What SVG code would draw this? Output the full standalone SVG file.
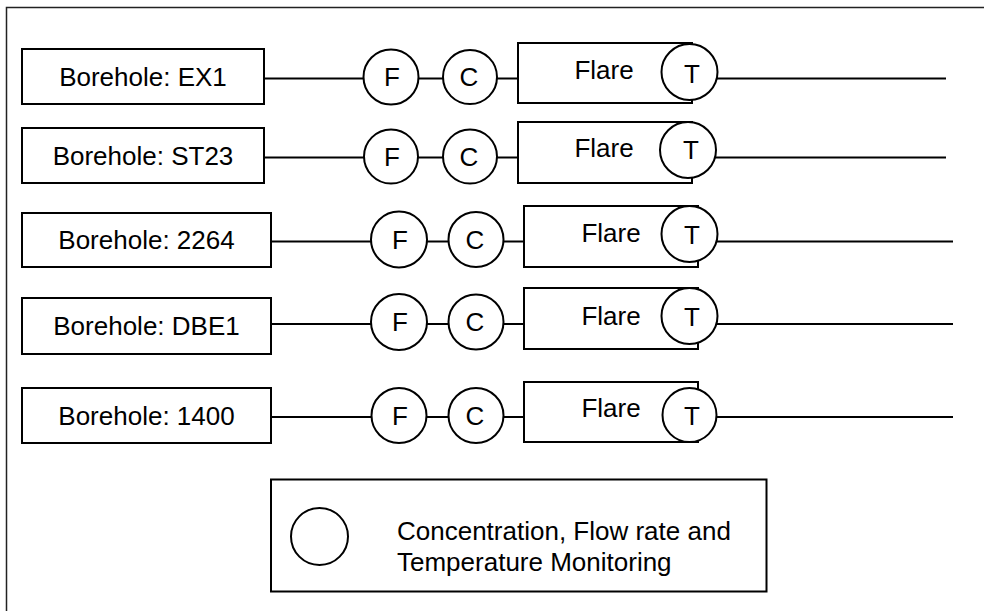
<svg xmlns="http://www.w3.org/2000/svg" width="984" height="611" viewBox="0 0 984 611">
<style>
  .box { fill: #ffffff; stroke: #000000; stroke-width: 2; }
  .circ { fill: #ffffff; stroke: #000000; stroke-width: 2; }
  .ln { stroke: #000000; stroke-width: 2; fill: none; }
  .t { font-family: "Liberation Sans", Arial, sans-serif; font-size: 26px; fill: #000000; }
  .m { text-anchor: middle; }
</style>
<rect x="6.5" y="7.5" width="1000" height="700" fill="#ffffff" stroke="#222222" stroke-width="1.5"/>

<g id="connectors">
  <line class="ln" x1="264" y1="78.5" x2="364" y2="78.5"/>
  <line class="ln" x1="418" y1="78.5" x2="444" y2="78.5"/>
  <line class="ln" x1="496" y1="78.5" x2="518" y2="78.5"/>
  <line class="ln" x1="717" y1="78.5" x2="946" y2="78.5"/>

  <line class="ln" x1="264" y1="157.5" x2="364" y2="157.5"/>
  <line class="ln" x1="418" y1="157.5" x2="444" y2="157.5"/>
  <line class="ln" x1="496" y1="157.5" x2="518" y2="157.5"/>
  <line class="ln" x1="715" y1="157.5" x2="946" y2="157.5"/>

  <line class="ln" x1="271" y1="241.5" x2="372" y2="241.5"/>
  <line class="ln" x1="426" y1="241.5" x2="449" y2="241.5"/>
  <line class="ln" x1="503" y1="241.5" x2="524" y2="241.5"/>
  <line class="ln" x1="717" y1="241.5" x2="953" y2="241.5"/>

  <line class="ln" x1="271" y1="324" x2="372" y2="324"/>
  <line class="ln" x1="426" y1="324" x2="449" y2="324"/>
  <line class="ln" x1="503" y1="324" x2="524" y2="324"/>
  <line class="ln" x1="717" y1="324" x2="953" y2="324"/>

  <line class="ln" x1="271" y1="417" x2="372" y2="417"/>
  <line class="ln" x1="426" y1="417" x2="449" y2="417"/>
  <line class="ln" x1="503" y1="417" x2="524" y2="417"/>
  <line class="ln" x1="717" y1="417" x2="953" y2="417"/>
</g>

<!-- Row 1 -->
<g id="borehole-ex1">
  <rect class="box" x="22" y="49" width="242" height="55"/>
  <text class="t m" x="143" y="86">Borehole: EX1</text>
</g>
<g id="f1"><circle class="circ" cx="391" cy="77" r="27.5"/><text class="t m" x="392" y="86">F</text></g>
<g id="c1"><circle class="circ" cx="470" cy="77" r="27"/><text class="t m" x="469" y="86">C</text></g>
<g id="flare1">
  <rect class="box" x="518" y="43" width="174" height="60"/>
  <text class="t m" x="604" y="79">Flare</text>
  <circle class="circ" cx="689.5" cy="72" r="28"/>
  <text class="t m" x="692" y="83">T</text>
</g>

<!-- Row 2 -->
<g id="borehole-st23">
  <rect class="box" x="22" y="128" width="242" height="55"/>
  <text class="t m" x="143" y="165">Borehole: ST23</text>
</g>
<g id="f2"><circle class="circ" cx="391" cy="156.5" r="27"/><text class="t m" x="392" y="165.5">F</text></g>
<g id="c2"><circle class="circ" cx="470" cy="156.5" r="27"/><text class="t m" x="469" y="165.5">C</text></g>
<g id="flare2">
  <rect class="box" x="518" y="122" width="174" height="61"/>
  <text class="t m" x="604" y="157">Flare</text>
  <circle class="circ" cx="688" cy="150" r="28"/>
  <text class="t m" x="691" y="159">T</text>
</g>

<!-- Row 3 -->
<g id="borehole-2264">
  <rect class="box" x="22" y="213" width="249" height="54"/>
  <text class="t m" x="146.5" y="249">Borehole: 2264</text>
</g>
<g id="f3"><circle class="circ" cx="399" cy="239.5" r="28"/><text class="t m" x="400" y="249">F</text></g>
<g id="c3"><circle class="circ" cx="476" cy="239.5" r="27.5"/><text class="t m" x="475" y="249">C</text></g>
<g id="flare3">
  <rect class="box" x="524" y="206" width="174" height="61"/>
  <text class="t m" x="611" y="242">Flare</text>
  <circle class="circ" cx="689.5" cy="234" r="28"/>
  <text class="t m" x="692" y="244">T</text>
</g>

<!-- Row 4 -->
<g id="borehole-dbe1">
  <rect class="box" x="22" y="298" width="249" height="56"/>
  <text class="t m" x="146.5" y="335">Borehole: DBE1</text>
</g>
<g id="f4"><circle class="circ" cx="399" cy="322" r="28"/><text class="t m" x="400" y="331">F</text></g>
<g id="c4"><circle class="circ" cx="476" cy="322" r="27.5"/><text class="t m" x="475" y="331">C</text></g>
<g id="flare4">
  <rect class="box" x="524" y="288" width="174" height="61"/>
  <text class="t m" x="611" y="325">Flare</text>
  <circle class="circ" cx="689.5" cy="316" r="28"/>
  <text class="t m" x="692" y="326">T</text>
</g>

<!-- Row 5 -->
<g id="borehole-1400">
  <rect class="box" x="22" y="388" width="249" height="55"/>
  <text class="t m" x="146.5" y="425">Borehole: 1400</text>
</g>
<g id="f5"><circle class="circ" cx="399" cy="415.5" r="27.5"/><text class="t m" x="400" y="424.5">F</text></g>
<g id="c5"><circle class="circ" cx="476" cy="415.5" r="27.5"/><text class="t m" x="475" y="424.5">C</text></g>
<g id="flare5">
  <rect class="box" x="524" y="382" width="174" height="60"/>
  <text class="t m" x="611" y="417">Flare</text>
  <circle class="circ" cx="689.5" cy="415" r="27"/>
  <text class="t m" x="692" y="424.5">T</text>
</g>

<!-- Legend -->
<g id="legend">
  <rect class="box" x="271" y="479.5" width="495.5" height="112"/>
  <circle class="circ" cx="319.5" cy="536.5" r="28.5"/>
  <text class="t" x="397" y="540">Concentration, Flow rate and</text>
  <text class="t" x="397" y="571">Temperature Monitoring</text>
</g>
</svg>
